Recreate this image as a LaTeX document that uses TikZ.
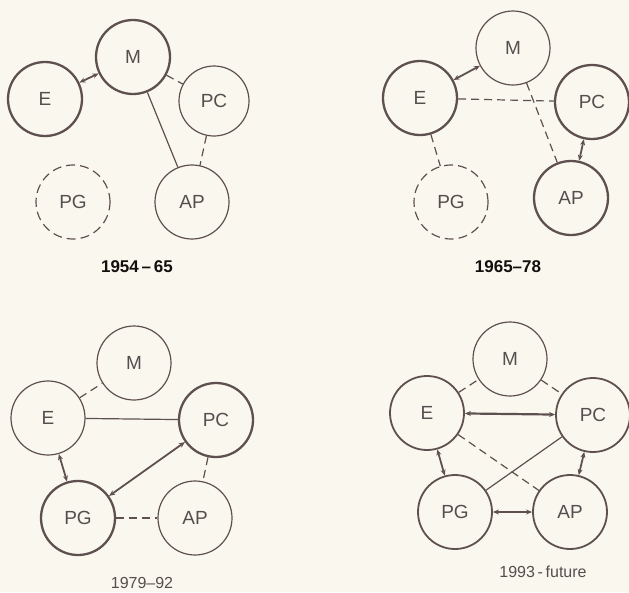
\documentclass[tikz,border=0pt]{standalone}
\usepackage{fontspec}
\setmainfont{Liberation Sans}
\usetikzlibrary{arrows.meta}
\definecolor{bg}{RGB}{250,248,238}
\definecolor{ln}{RGB}{95,80,80}
\definecolor{tx}{RGB}{85,78,78}
\definecolor{lb}{RGB}{20,15,15}
\tikzset{
  nd/.style={circle, draw=ln, inner sep=0pt, minimum size=74pt, text=tx, font=\fontsize{19}{19}\selectfont},
  thinnd/.style={nd, line width=1.2pt},
  thicknd/.style={nd, line width=2.3pt},
  dashnd/.style={nd, line width=1.2pt, dash pattern=on 9pt off 5pt},
  thinln/.style={draw=ln, line width=1.2pt},
  dashln/.style={draw=ln, line width=1.2pt, dash pattern=on 8pt off 5pt},
  dbl/.style={draw=ln, line width=1.8pt, {Stealth[length=6pt,width=5pt]}-{Stealth[length=6pt,width=5pt]}},
  lblb/.style={text=lb, font=\bfseries\fontsize{17}{17}\selectfont},
  lblr/.style={text=tx, font=\fontsize{16}{16}\selectfont},
}
\begin{document}
\begin{tikzpicture}[x=1pt,y=-1pt]
\fill[bg] (0,0) rectangle (629,592);
\useasboundingbox (0,0) rectangle (629,592);
% Panel 1
\node[thicknd] (m1) at (133,57) {M};
\node[thicknd] (e1) at (45,99) {E};
\node[thinnd, minimum size=70pt] (pc1) at (214,101) {PC};
\node[dashnd] (pg1) at (73,202) {PG};
\node[thinnd] (ap1) at (192,202) {AP};
\draw[dbl] (e1) -- (m1);
\draw[dashln] (m1) -- (pc1);
\draw[thinln] (m1) -- (ap1);
\draw[dashln] (pc1) -- (ap1);
\node[lblb] (l1) at (137,267) {1954\,–\,65};
% Panel 2
\node[thinnd] (m2) at (513,48) {M};
\node[thicknd] (e2) at (420,98) {E};
\node[thicknd] (pc2) at (592,102) {PC};
\node[dashnd] (pg2) at (451,202) {PG};
\node[thicknd] (ap2) at (571,198) {AP};
\draw[dbl] (e2) -- (m2);
\draw[dashln] (e2) -- (pc2);
\draw[dashln] (m2) -- (ap2);
\draw[dbl] (pc2) -- (ap2);
\draw[dashln] (e2) -- (pg2);
\node[lblb] (l2) at (508,267) {1965–78};
% Panel 3
\node[thinnd] (m3) at (134,363) {M};
\node[thinnd] (e3) at (48,418) {E};
\node[thicknd] (pc3) at (216,420) {PC};
\node[thicknd] (pg3) at (78,518) {PG};
\node[thinnd] (ap3) at (195,518) {AP};
\draw[dashln] (e3) -- (m3);
\draw[thinln] (e3) -- (pc3);
\draw[dbl] (pc3) -- (pg3);
\draw[dbl] (e3) -- (pg3);
\draw[dashln] (pc3) -- (ap3);
\draw[dashln] (pg3) -- (ap3);
\node[lblr] (l3) at (142,583) {1979–92};
% Panel 4
\node[thinnd] (m4) at (510,359) {M};
\node[thicknd, line width=1.8pt] (e4) at (427,413) {E};
\node[thicknd, line width=1.8pt] (pc4) at (593,415) {PC};
\node[thicknd, line width=1.8pt] (pg4) at (455,512) {PG};
\node[thicknd, line width=1.8pt] (ap4) at (570,512) {AP};
\draw[dashln] (e4) -- (m4);
\draw[dashln] (m4) -- (pc4);
\draw[dbl, line width=2.2pt] (e4) -- (pc4);
\draw[dashln] (e4) -- (ap4);
\draw[thinln] (pg4) -- (pc4);
\draw[dbl] (pg4) -- (e4);
\draw[dbl] (ap4) -- (pc4);
\draw[dbl] (pg4) -- (ap4);
\node[lblr] (l4) at (543,572) {1993\,-\,future};
\end{tikzpicture}
\end{document}
